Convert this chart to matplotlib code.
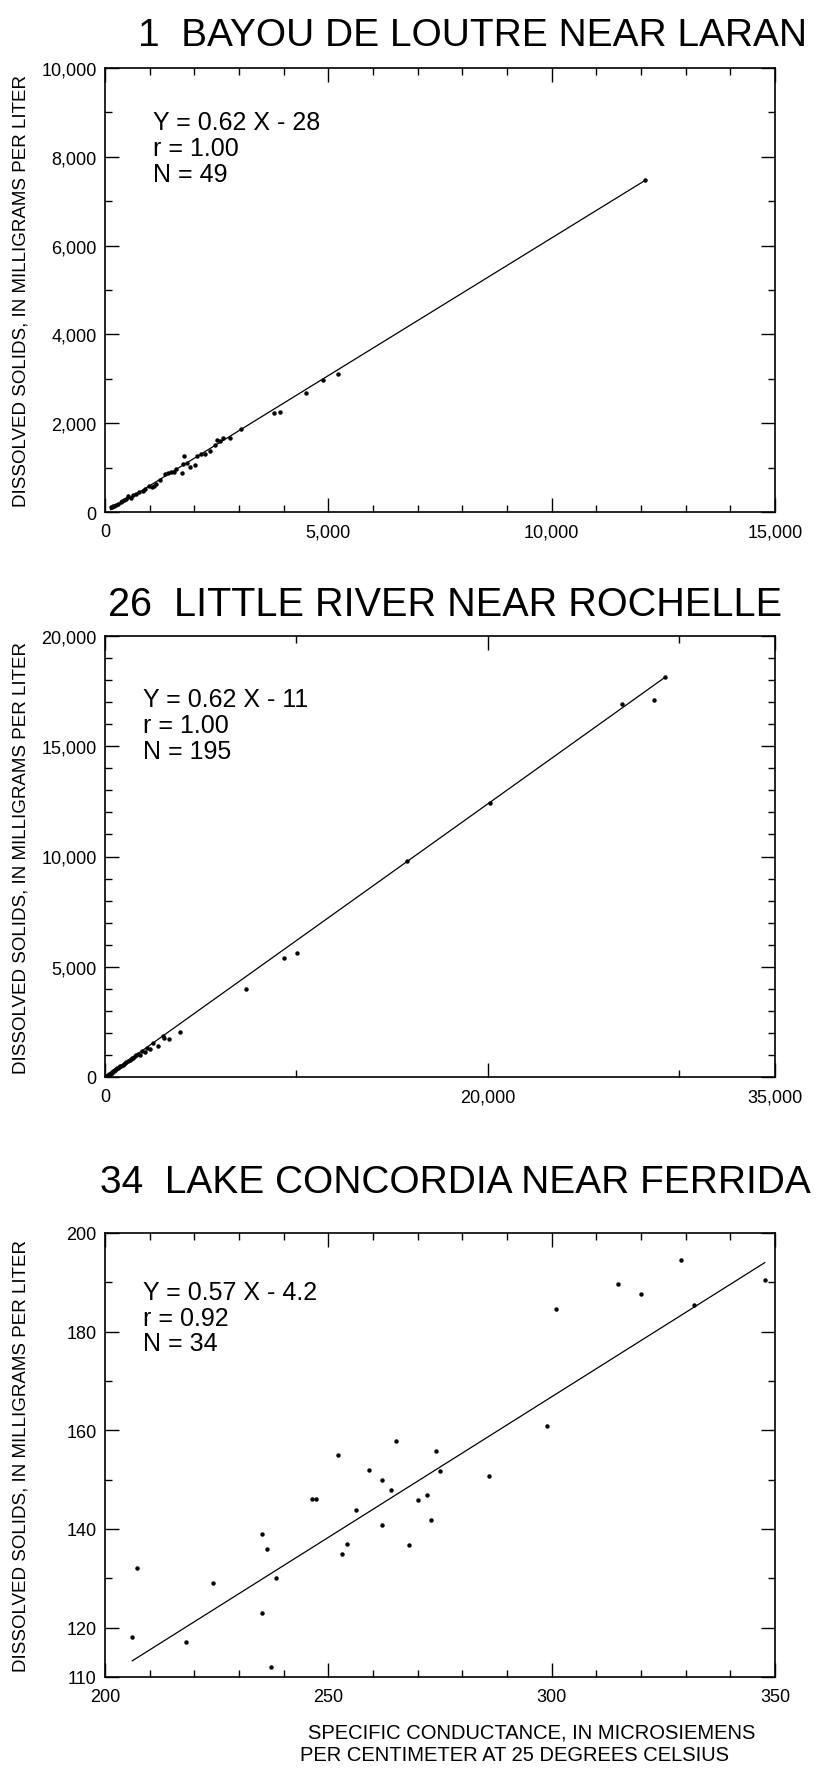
import numpy as np
from matplotlib import pyplot
from matplotlib.ticker import FixedLocator, FuncFormatter

pyplot.rcParams['font.family'] = ['Liberation Sans', 'DejaVu Sans']

# region : data
# 1 Bayou de Loutre near Laran -- specific conductance (x) / dissolved solids (y)
sc_1 = [127, 150, 187, 210, 246, 298, 351, 388, 430, 470, 522, 575, 634, 687, 760, 843,
        896, 980, 1045, 1097, 1134, 1231, 1343, 1418, 1480, 1552, 1590, 1717, 1754, 1776,
        1829, 1903, 2015, 2052, 2150, 2239, 2351, 2463, 2515, 2575, 2650, 2799, 3045, 3791,
        3918, 4500, 4873, 5224, 12100]
ds_1 = [105, 110, 128, 140, 158, 188, 218, 255, 270, 290, 353, 315, 383, 405, 440, 480,
        518, 580, 556, 593, 631, 728, 863, 878, 900, 893, 968, 871, 1081, 1269,
        1103, 1021, 1058, 1254, 1300, 1299, 1381, 1509, 1629, 1606, 1659, 1659, 1869, 2229,
        2259, 2680, 2973, 3108, 7480]
fit_1 = (0.62, -28)
stats_1 = ('1.00', 49)

# 26 Little River near Rochelle
sc_26 = [40, 80, 110, 150, 190, 230, 260, 300, 340, 380, 420, 460, 500, 540, 590, 640,
         690, 740, 800, 860, 920, 980, 1050, 1120, 1200, 1280, 1350, 1420, 1480, 1560,
         1640, 1720, 1828, 1950, 2090, 2200, 2351, 2500, 2786, 3013, 3082, 3343, 3918,
         7349, 9368, 10013, 15800, 20100, 27000, 28700, 29275]
ds_26 = [30, 45, 60, 85, 110, 140, 150, 180, 200, 230, 250, 280, 300, 330, 360, 390,
         420, 450, 490, 520, 560, 600, 640, 690, 740, 780, 830, 870, 847, 950,
         1000, 1050, 998, 1200, 1119, 1330, 1270, 1530, 1421, 1874, 1754, 1723, 2056,
         3991, 5382, 5608, 9777, 12444, 16911, 17115, 18140]
fit_26 = (0.62, -11)
stats_26 = ('1.00', 195)

# 34 Lake Concordia near Ferrida
sc_34 = [206.1, 207.2, 218.2, 224.1, 235.2, 235.2, 236.2, 237.1, 238.2, 246.4, 247.3,
         252.1, 253.1, 254.2, 256.1, 259.2, 262.1, 262.1, 264.1, 265.1, 268.0, 270.1,
         272.1, 273.0, 274.0, 275.1, 286.0, 298.9, 301.0, 314.9, 319.9, 328.9, 331.9, 347.7]
ds_34 = [118.2, 132.1, 117.0, 129.0, 139.0, 123.0, 136.0, 112.0, 130.0, 146.0, 146.0,
         155.0, 134.9, 137.0, 143.9, 152.0, 150.0, 140.9, 148.0, 157.9, 136.8, 145.9,
         146.9, 141.8, 155.9, 151.8, 150.8, 160.8, 184.6, 189.7, 187.6, 194.6, 185.5, 190.4]
fit_34 = (0.57, -4.2)
stats_34 = ('0.92', 34)
# endregion

titles = ['1  BAYOU DE LOUTRE NEAR LARAN',
          '26  LITTLE RIVER NEAR ROCHELLE',
          '34  LAKE CONCORDIA NEAR FERRIDA']
ylabel = 'DISSOLVED SOLIDS, IN MILLIGRAMS PER LITER'
xlabel = ['SPECIFIC CONDUCTANCE, IN MICROSIEMENS',
          'PER CENTIMETER AT 25 DEGREES CELSIUS']

comma = FuncFormatter(lambda v, p: '{:,.0f}'.format(v))

fig = pyplot.figure(figsize=(8.16, 17.74), dpi=100)
W, H = 816.0, 1774.0


def add_panel(top, bottom, xlim, ylim, xmaj, xmin, ymaj, ymin):
    ax = fig.add_axes([105 / W, 1 - bottom / H, 670 / W, (bottom - top) / H])
    ax.set_xlim(*xlim)
    ax.set_ylim(*ylim)
    ax.xaxis.set_major_locator(FixedLocator(xmaj))
    ax.xaxis.set_minor_locator(FixedLocator(xmin))
    ax.yaxis.set_major_locator(FixedLocator(ymaj))
    ax.yaxis.set_minor_locator(FixedLocator(ymin))
    ax.xaxis.set_major_formatter(comma)
    ax.yaxis.set_major_formatter(comma)
    ax.tick_params(which='both', direction='in', top=True, right=True, width=1.0,
                   labelsize=13)
    ax.tick_params(which='major', length=10)
    ax.tick_params(which='minor', length=5)
    ax.tick_params(axis='x', pad=8)
    ax.tick_params(axis='y', pad=6)
    for sp in ax.spines.values():
        sp.set_linewidth(1.2)
    return ax


def draw(ax, x, y, fit, stats, tx, ty):
    x = np.array(x, dtype=float)
    y = np.array(y, dtype=float)
    ax.plot(x, y, 'o', color='black', markersize=3.2, markeredgewidth=0)
    xx = np.array([x.min(), x.max()])
    ax.plot(xx, fit[0] * xx + fit[1], '-', color='black', linewidth=0.9)
    sign = '-' if fit[1] < 0 else '+'
    txt = 'Y = %.2f X %s %g\nr = %s\nN = %d' % (fit[0], sign, abs(fit[1]), stats[0], stats[1])
    ax.text(tx, ty, txt, transform=ax.transAxes, fontsize=18, va='top', ha='left',
            linespacing=1.1)


ax1 = add_panel(69, 513, (0, 15000), (0, 10000),
                [0, 5000, 10000, 15000], np.arange(1000, 15000, 1000),
                np.arange(0, 10001, 2000), np.arange(1000, 10000, 2000))
draw(ax1, sc_1, ds_1, fit_1, stats_1, 0.072, 0.905)

ax2 = add_panel(637, 1078, (0, 35000), (0, 20000),
                [0, 20000, 35000], [10000, 30000],
                np.arange(0, 20001, 5000), np.arange(1000, 20000, 1000))
draw(ax2, sc_26, ds_26, fit_26, stats_26, 0.057, 0.885)

ax3 = add_panel(1234, 1678, (200, 350), (110, 200),
                [200, 250, 300, 350], np.arange(210, 350, 10),
                [110, 120, 140, 160, 180, 200], [130, 150, 170, 190])
draw(ax3, sc_34, ds_34, fit_34, stats_34, 0.057, 0.895)

# station titles
fig.text(138 / W, 1 - 36 / H, titles[0], fontsize=28, ha='left', va='center')
fig.text(108 / W, 1 - 605 / H, titles[1], fontsize=28.5, ha='left', va='center')
fig.text(100 / W, 1 - 1183 / H, titles[2], fontsize=28, ha='left', va='center')

# shared axis labels
for top, bottom in [(69, 513), (637, 1078), (1234, 1678)]:
    fig.text(21 / W, 1 - (top + bottom) / 2 / H, ylabel, rotation=90, fontsize=13.5,
             ha='center', va='center')
fig.text(532 / W, 1 - 1733 / H, xlabel[0], fontsize=14.5, ha='center', va='center')
fig.text(514 / W, 1 - 1756 / H, xlabel[1], fontsize=14.5, ha='center', va='center')

pyplot.savefig('out.png', dpi=100)
